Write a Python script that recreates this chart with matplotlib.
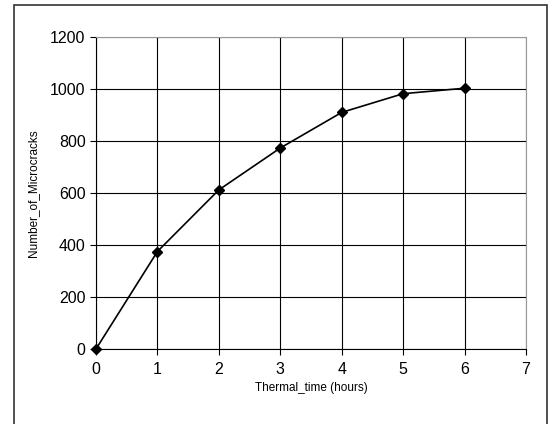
import matplotlib.pyplot as plt
from matplotlib.patches import Rectangle

hours = [0, 1, 2, 3, 4, 5, 6]
microcracks = [0, 375, 612, 773, 910, 982, 1003]

plt.rcParams['font.family'] = ['Liberation Sans', 'DejaVu Sans']

fig = plt.figure(figsize=(5.5, 4.24), dpi=100)
ax = fig.add_axes([96 / 550, 1 - 349 / 424, 430 / 550, 312 / 424])

# outer frame like the spreadsheet chart area
fig.patches.append(Rectangle((14 / 550, -0.05), 533 / 550, 1 - 5 / 424 + 0.05,
                             transform=fig.transFigure, fill=False,
                             edgecolor='#333333', linewidth=1.2))

ax.plot(hours, microcracks, color='black', linewidth=1.2, marker='D',
        markersize=5, clip_on=False, zorder=3)

ax.set_xlim(0, 7)
ax.set_ylim(0, 1200)
ax.set_xticks(range(0, 8))
ax.set_yticks(range(0, 1201, 200))
ax.grid(True, color='black', linewidth=0.8)
ax.set_axisbelow(True)

ax.spines['top'].set_color('#999999')
ax.spines['right'].set_color('#999999')
ax.spines['left'].set_color('black')
ax.spines['bottom'].set_color('black')
ax.tick_params(direction='out', length=4, labelsize=11.5, width=0.8)
ax.tick_params(axis='x', pad=5)

ax.set_xlabel('Thermal_time (hours)', fontsize=8.5, labelpad=4)
ax.set_ylabel('Number_of_Microcracks', fontsize=8.5, labelpad=8)

fig.savefig('out.png', dpi=100)
